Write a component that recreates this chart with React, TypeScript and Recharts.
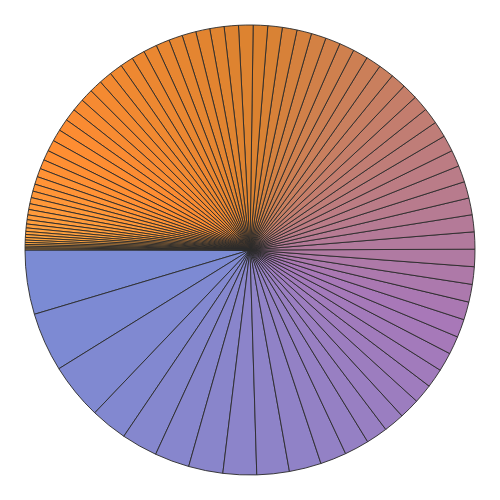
import { PieChart, Pie, Cell } from "recharts"

// slice sizes in order (counter-clockwise from 9 o'clock)
const lowerLeft = [1665, 1530, 1455, 955, 935, 900, 890, 870]
const lowerRight = [840, 830, 680, 640, 560, 540, 530, 500, 495, 490, 470, 470, 465, 460, 455, 450]
const upperRight = [445, 440, 435, 430, 430, 425, 420, 415, 415, 410, 405, 400, 400, 395, 390, 390, 385, 385, 380, 380, 375, 375]
const upperLeft = [375, 370, 370, 365, 360, 355, 355, 350, 345, 340, 340, 335, 330, 330, 325, 320, 315, 310]
const tail = [290, 260, 240, 220, 200, 185, 170, 160, 150, 140, 125, 110, 100, 90, 80, 75, 68, 60, 52, 45, 40, 32, 25]

const values = [...lowerLeft, ...lowerRight, ...upperRight, ...upperLeft, ...tail]
const data = values.map((v, i) => ({ name: `Item ${i + 1}`, value: v }))

const colorStops: [number, string][] = [
  [0, "#7b8bd4"],
  [0.22, "#a878b8"],
  [0.52, "#da8230"],
  [0.74, "#ff8d32"],
  [1, "#ffae48"],
]

function hex(c: string) {
  return [1, 3, 5].map((k) => parseInt(c.slice(k, k + 2), 16))
}

function colorAt(t: number) {
  for (let s = 0; s < colorStops.length - 1; s++) {
    const [t0, c0] = colorStops[s]
    const [t1, c1] = colorStops[s + 1]
    if (t <= t1) {
      const f = (t - t0) / (t1 - t0)
      const a = hex(c0)
      const b = hex(c1)
      const rgb = a.map((x, k) => Math.round(x + (b[k] - x) * f))
      return `rgb(${rgb.join(",")})`
    }
  }
  return colorStops[colorStops.length - 1][1]
}

export default function App() {
  return (
    <div style={{ position: "absolute", left: 0, top: 0, width: 500, height: 500, background: "#fff" }}>
      <PieChart width={500} height={500}>
        <Pie
          data={data}
          dataKey="value"
          nameKey="name"
          cx={245}
          cy={245}
          outerRadius={225}
          startAngle={180}
          endAngle={540}
          stroke="#2a2a2a"
          strokeWidth={0.9}
          isAnimationActive={false}
        >
          {data.map((d, i) => (
            <Cell key={d.name} fill={colorAt(i / (data.length - 1))} />
          ))}
        </Pie>
      </PieChart>
    </div>
  )
}
